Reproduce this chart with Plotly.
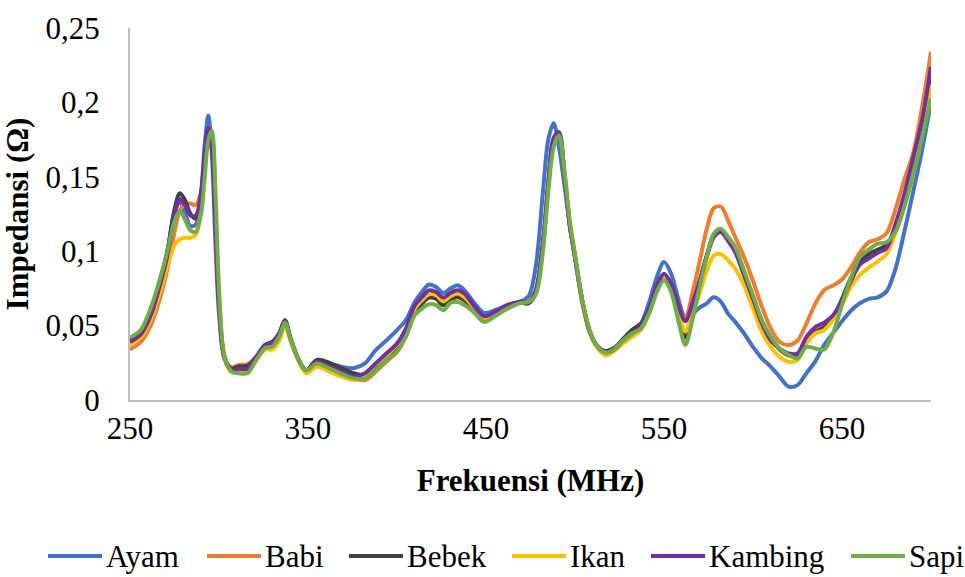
import plotly.graph_objects as go

# Frequency grid (MHz)
frekuensi = [
    250, 256, 262, 267, 271, 275, 278, 281, 284, 287,
    290, 292, 294, 296, 298, 300, 303, 307, 311, 316,
    321, 326, 330, 334, 337, 340, 344, 349, 355, 362,
    369, 376, 382, 388, 394, 400, 405, 410, 414, 418,
    422, 426, 430, 434, 438, 443, 449, 455, 462, 469,
    474, 478, 482, 485, 488, 491, 494, 497, 500, 504,
    508, 512, 517, 522, 527, 532, 537, 542, 546, 550,
    554, 558, 562, 566, 570, 574, 578, 582, 586, 590,
    595, 600, 605, 610, 615, 620, 625, 630, 635, 640,
    645, 650, 655, 660, 665, 670, 675, 680, 685, 690,
    695, 700,
]

# Impedance (ohm) per sample
ayam = [
    0.041, 0.046, 0.061, 0.081, 0.100, 0.126, 0.133, 0.125, 0.117, 0.118,
    0.140, 0.172, 0.191, 0.165, 0.105, 0.058, 0.028, 0.020, 0.021, 0.022,
    0.029, 0.037, 0.039, 0.045, 0.053, 0.042, 0.029, 0.020, 0.026, 0.0243,
    0.0223, 0.0215, 0.0246, 0.0335, 0.040, 0.047, 0.0536, 0.0659, 0.0726, 0.0776,
    0.076, 0.0719, 0.0749, 0.0771, 0.0737, 0.0659, 0.0585, 0.0603, 0.0637, 0.066,
    0.070, 0.090, 0.140, 0.175, 0.186, 0.170, 0.145, 0.118, 0.096, 0.067,
    0.047, 0.037, 0.032, 0.034, 0.040, 0.0447, 0.051, 0.067, 0.0827, 0.0927,
    0.0849, 0.0682, 0.055, 0.058, 0.062, 0.065, 0.069, 0.066, 0.058, 0.0525,
    0.0447, 0.0357, 0.028, 0.0223, 0.0156, 0.009, 0.010, 0.018, 0.026, 0.037,
    0.045, 0.053, 0.060, 0.065, 0.068, 0.069, 0.073, 0.088, 0.113, 0.140,
    0.168, 0.200,
]
babi = [
    0.034, 0.039, 0.051, 0.069, 0.088, 0.113, 0.127, 0.132, 0.132, 0.131,
    0.140, 0.158, 0.178, 0.168, 0.118, 0.062, 0.029, 0.022, 0.0235, 0.024,
    0.029, 0.037, 0.039, 0.045, 0.053, 0.042, 0.029, 0.020, 0.027, 0.0245,
    0.019, 0.0145, 0.0134, 0.019, 0.0257, 0.0324, 0.044, 0.059, 0.065, 0.069,
    0.068, 0.064, 0.0675, 0.069, 0.067, 0.061, 0.055, 0.058, 0.0635, 0.0655,
    0.065, 0.072, 0.104, 0.144, 0.174, 0.179, 0.152, 0.118, 0.096, 0.067,
    0.047, 0.037, 0.032, 0.034, 0.040, 0.0447, 0.049, 0.061, 0.076, 0.083,
    0.077, 0.060, 0.056, 0.072, 0.093, 0.115, 0.129, 0.130, 0.1206, 0.1095,
    0.096, 0.080, 0.0626, 0.048, 0.039, 0.0369, 0.040, 0.0514, 0.0648, 0.074,
    0.077, 0.081, 0.089, 0.099, 0.106, 0.108, 0.112, 0.128, 0.148, 0.166,
    0.197, 0.234,
]
bebek = [
    0.040, 0.045, 0.060, 0.080, 0.100, 0.128, 0.139, 0.134, 0.125, 0.122,
    0.138, 0.163, 0.182, 0.170, 0.120, 0.065, 0.029, 0.021, 0.0225, 0.023,
    0.029, 0.037, 0.039, 0.045, 0.0536, 0.042, 0.029, 0.020, 0.027, 0.025,
    0.0212, 0.0179, 0.017, 0.0223, 0.028, 0.0346, 0.0447, 0.0592, 0.0648, 0.0688,
    0.0681, 0.0637, 0.0675, 0.0692, 0.067, 0.0614, 0.055, 0.058, 0.0635, 0.0655,
    0.065, 0.073, 0.105, 0.145, 0.175, 0.179, 0.152, 0.118, 0.096, 0.067,
    0.047, 0.037, 0.033, 0.035, 0.041, 0.047, 0.0514, 0.062, 0.076, 0.0836,
    0.076, 0.058, 0.042, 0.058, 0.079, 0.097, 0.111, 0.114, 0.108, 0.101,
    0.085, 0.069, 0.052, 0.041, 0.034, 0.030, 0.030, 0.040, 0.0458, 0.049,
    0.055, 0.068, 0.082, 0.093, 0.098, 0.101, 0.104, 0.116, 0.135, 0.160,
    0.185, 0.221,
]
ikan = [
    0.037, 0.042, 0.055, 0.073, 0.090, 0.104, 0.108, 0.109, 0.109, 0.111,
    0.130, 0.155, 0.176, 0.174, 0.128, 0.070, 0.029, 0.019, 0.019, 0.019,
    0.027, 0.034, 0.034, 0.040, 0.050, 0.040, 0.028, 0.018, 0.0223, 0.019,
    0.0156, 0.0134, 0.017, 0.024, 0.030, 0.037, 0.0458, 0.0614, 0.067, 0.071,
    0.0704, 0.0663, 0.0697, 0.0715, 0.069, 0.0625, 0.055, 0.058, 0.0637, 0.0659,
    0.066, 0.073, 0.104, 0.144, 0.174, 0.178, 0.153, 0.119, 0.096, 0.066,
    0.046, 0.036, 0.030, 0.033, 0.038, 0.0424, 0.047, 0.060, 0.075, 0.0827,
    0.075, 0.060, 0.046, 0.058, 0.0715, 0.087, 0.097, 0.098, 0.0938, 0.0883,
    0.077, 0.0614, 0.0458, 0.0357, 0.029, 0.0257, 0.0268, 0.038, 0.0447, 0.047,
    0.054, 0.064, 0.076, 0.084, 0.089, 0.093, 0.098, 0.112, 0.130, 0.152,
    0.178, 0.212,
]
kambing = [
    0.039, 0.044, 0.058, 0.078, 0.097, 0.124, 0.135, 0.131, 0.124, 0.124,
    0.140, 0.165, 0.183, 0.170, 0.120, 0.065, 0.029, 0.020, 0.021, 0.021,
    0.029, 0.037, 0.039, 0.045, 0.0536, 0.042, 0.029, 0.020, 0.0257, 0.0223,
    0.019, 0.016, 0.0179, 0.0246, 0.0313, 0.038, 0.048, 0.0637, 0.0692, 0.0737,
    0.0726, 0.0688, 0.0719, 0.0737, 0.0715, 0.0637, 0.0563, 0.0592, 0.0637, 0.066,
    0.066, 0.074, 0.106, 0.146, 0.176, 0.180, 0.152, 0.118, 0.096, 0.067,
    0.047, 0.037, 0.032, 0.034, 0.040, 0.0447, 0.050, 0.0626, 0.077, 0.0849,
    0.0782, 0.0637, 0.053, 0.065, 0.080, 0.096, 0.1095, 0.1128, 0.107, 0.0994,
    0.0838, 0.068, 0.0514, 0.040, 0.0346, 0.0313, 0.0313, 0.0424, 0.049, 0.052,
    0.057, 0.067, 0.080, 0.091, 0.095, 0.099, 0.102, 0.118, 0.138, 0.163,
    0.188, 0.224,
]
sapi = [
    0.042, 0.047, 0.063, 0.082, 0.100, 0.120, 0.127, 0.121, 0.114, 0.113,
    0.126, 0.150, 0.175, 0.181, 0.140, 0.075, 0.030, 0.019, 0.018, 0.018,
    0.027, 0.035, 0.036, 0.043, 0.052, 0.042, 0.029, 0.020, 0.0246, 0.0212,
    0.0174, 0.0145, 0.0145, 0.020, 0.0268, 0.0324, 0.0424, 0.057, 0.0614, 0.0643,
    0.0637, 0.0603, 0.0652, 0.0659, 0.0637, 0.0592, 0.0525, 0.0563, 0.0614, 0.065,
    0.066, 0.071, 0.100, 0.140, 0.170, 0.178, 0.155, 0.121, 0.098, 0.068,
    0.048, 0.037, 0.032, 0.034, 0.040, 0.0447, 0.048, 0.0592, 0.0726, 0.0804,
    0.0726, 0.0536, 0.037, 0.054, 0.076, 0.096, 0.1117, 0.115, 0.1095, 0.1028,
    0.087, 0.0704, 0.0536, 0.0424, 0.0346, 0.0302, 0.028, 0.0357, 0.0346, 0.034,
    0.045, 0.064, 0.082, 0.096, 0.101, 0.105, 0.106, 0.113, 0.130, 0.152,
    0.176, 0.203,
]

series_names = ["Ayam", "Babi", "Bebek", "Ikan", "Kambing", "Sapi"]
series_values = [ayam, babi, bebek, ikan, kambing, sapi]
series_colors = ["#4472C4", "#ED7D31", "#404040", "#FFC000", "#7030A0", "#70AD47"]

x_tick_vals = [250, 350, 450, 550, 650]
y_tick_vals = [0, 0.05, 0.1, 0.15, 0.2, 0.25]
y_tick_text = ["0", "0,05", "0,1", "0,15", "0,2", "0,25"]

FONT = "Liberation Serif, serif"
FS = 31

# Page geometry (px) used to place the legend row below the axes
W, H = 965, 577
M_L, M_R, M_T, M_B = 130, 34, 28, 177
PLOT_W = W - M_L - M_R
PLOT_H = H - M_T - M_B
LEGEND_Y = 556
legend_item_x = [48, 207, 349, 512, 651, 851]  # left edge of each key line
KEY_LEN, KEY_GAP = 54, 2


def to_paper_x(px):
    return (px - M_L) / PLOT_W


def to_paper_y(py):
    return (H - M_B - py) / PLOT_H


fig = go.Figure()
for name, vals, color in zip(series_names, series_values, series_colors):
    fig.add_trace(go.Scatter(
        x=frekuensi, y=vals, mode="lines", name=name,
        line=dict(color=color, width=4, shape="spline", smoothing=0.9),
    ))

# Legend row: coloured key line followed by the series name
for name, color, x0 in zip(series_names, series_colors, legend_item_x):
    fig.add_shape(
        type="line", xref="paper", yref="paper",
        x0=to_paper_x(x0), x1=to_paper_x(x0 + KEY_LEN),
        y0=to_paper_y(LEGEND_Y), y1=to_paper_y(LEGEND_Y),
        line=dict(color=color, width=4),
    )
    fig.add_annotation(
        xref="paper", yref="paper",
        x=to_paper_x(x0 + KEY_LEN + KEY_GAP), y=to_paper_y(LEGEND_Y),
        xanchor="left", yanchor="middle", showarrow=False,
        text=name, font=dict(family=FONT, size=FS, color="black"),
    )

fig.update_layout(
    template="none",
    width=W, height=H,
    margin=dict(l=M_L, r=M_R, t=M_T, b=M_B),
    paper_bgcolor="white", plot_bgcolor="white",
    font=dict(family=FONT, size=FS, color="black"),
    showlegend=False,
)
fig.update_xaxes(
    range=[250, 700], tickvals=x_tick_vals, showgrid=False, zeroline=False,
    showline=True, linecolor="#BFBFBF", linewidth=2, ticks="",
    tickfont=dict(family=FONT, size=FS), ticklabelstandoff=0,
    title=dict(text="<b>Frekuensi (MHz)</b>", font=dict(family=FONT, size=FS), standoff=24),
)
fig.update_yaxes(
    range=[0, 0.25], tickvals=y_tick_vals, ticktext=y_tick_text, showgrid=False,
    zeroline=False, showline=True, linecolor="#BFBFBF", linewidth=2, ticks="",
    tickfont=dict(family=FONT, size=FS), ticklabelstandoff=22,
    title=dict(text="<b>Impedansi (Ω)</b>", font=dict(family=FONT, size=FS), standoff=12),
)

fig.write_html("out.html")
